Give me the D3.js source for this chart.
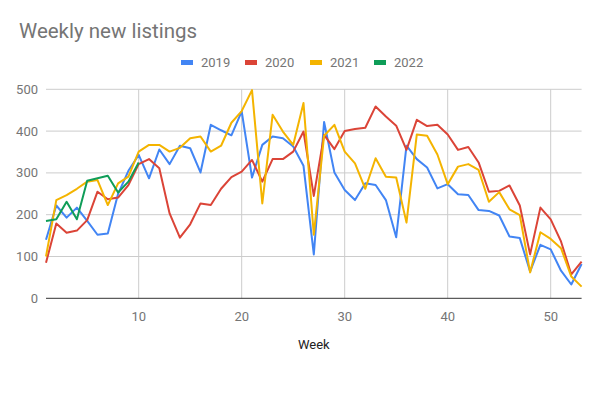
<!DOCTYPE html>
<html>
<head>
<meta charset="utf-8">
<script src="https://cdn.jsdelivr.net/npm/d3@7"></script>
<style>
  body { margin: 0; background: #fff; }
  svg { font-family: Roboto, Arial, sans-serif; }
</style>
</head>
<body>
<div id="chart"></div>
<script>
// weekly new listings per year
const years = ["2019", "2020", "2021", "2022"];
const colors = ["#4285f4", "#db4437", "#f4b400", "#0f9d58"];

const y2019 = [140, 222, 193, 217, 185, 152, 155, 250, 305, 343, 287, 356, 321, 365, 359, 301, 415, 402, 390, 447,
    289, 367, 387, 383, 363, 317, 105, 422, 301, 259, 235, 275, 271, 235, 146, 365, 333, 313, 263, 273,
    249, 247, 211, 209, 198, 148, 144, 64, 128, 117, 66, 33, 82];
const y2020 = [85, 179, 157, 162, 187, 255, 237, 241, 271, 321, 333, 311, 203, 145, 177, 227, 223, 262, 290, 303,
    331, 279, 333, 333, 351, 399, 245, 391, 357, 400, 405, 408, 459, 435, 413, 355, 427, 412, 415, 392,
    355, 362, 325, 255, 257, 270, 222, 105, 217, 189, 136, 57, 88];
const y2021 = [100, 235, 247, 262, 279, 283, 223, 275, 291, 351, 367, 367, 351, 360, 383, 387, 351, 365, 420, 448,
    498, 227, 439, 399, 367, 467, 152, 389, 415, 351, 323, 262, 335, 291, 289, 181, 392, 389, 344, 273,
    315, 321, 307, 231, 254, 213, 199, 62, 158, 142, 120, 52, 28];
const y2022 = [185, 189, 231, 189, 281, 287, 293, 253, 279, 325];

const seriesValues = [y2019, y2020, y2021, y2022];
const xTicks = [10, 20, 30, 40, 50];
const yTicks = [0, 100, 200, 300, 400, 500];

const width = 600, height = 396;
const margin = {top: 89.3, right: 18.4, bottom: 97.7, left: 46};

const svg = d3.select("#chart").append("svg")
    .attr("width", width)
    .attr("height", height);

const x = d3.scaleLinear().domain([1, 53]).range([margin.left, width - margin.right]);
const y = d3.scaleLinear().domain([0, 500]).range([height - margin.bottom, margin.top]);

// title
svg.append("text")
    .attr("x", 19)
    .attr("y", 38)
    .attr("font-size", 20.5)
    .attr("fill", "#757575")
    .text("Weekly new listings");

// legend
const legend = svg.append("g");
const legendX = [181, 245, 310, 374];
years.forEach((yr, i) => {
    legend.append("rect")
        .attr("x", legendX[i]).attr("y", 60)
        .attr("width", 12).attr("height", 5)
        .attr("fill", colors[i]);
    legend.append("text")
        .attr("x", legendX[i] + 20).attr("y", 62.5)
        .attr("dy", "0.35em")
        .attr("font-size", 13)
        .attr("fill", "#757575")
        .text(yr);
});

// gridlines
svg.append("g")
    .selectAll("line")
    .data(yTicks.filter(d => d > 0))
    .join("line")
    .attr("x1", x(1)).attr("x2", x(53))
    .attr("y1", d => y(d)).attr("y2", d => y(d))
    .attr("stroke", "#cccccc").attr("stroke-width", 1);

svg.append("g")
    .selectAll("line")
    .data(xTicks)
    .join("line")
    .attr("x1", d => x(d)).attr("x2", d => x(d))
    .attr("y1", y(500)).attr("y2", y(0))
    .attr("stroke", "#cccccc").attr("stroke-width", 1);

// y labels
svg.append("g")
    .selectAll("text")
    .data(yTicks)
    .join("text")
    .attr("x", 38)
    .attr("y", d => y(d))
    .attr("dy", "0.35em")
    .attr("text-anchor", "end")
    .attr("font-size", 13)
    .attr("fill", "#757575")
    .text(d => d);

// x labels
svg.append("g")
    .selectAll("text")
    .data(xTicks)
    .join("text")
    .attr("x", d => x(d))
    .attr("y", y(0) + 18)
    .attr("dy", "0.35em")
    .attr("text-anchor", "middle")
    .attr("font-size", 13)
    .attr("fill", "#757575")
    .text(d => d);

svg.append("text")
    .attr("x", (x(1) + x(53)) / 2)
    .attr("y", y(0) + 46)
    .attr("dy", "0.35em")
    .attr("text-anchor", "middle")
    .attr("font-size", 13)
    .attr("fill", "#222222")
    .text("Week");

// lines
const line = d3.line()
    .x((d, i) => x(i + 1))
    .y(d => y(d));

const plot = svg.append("g");
seriesValues.forEach((vals, i) => {
    plot.append("path")
        .datum(vals)
        .attr("d", line)
        .attr("fill", "none")
        .attr("stroke", colors[i])
        .attr("stroke-width", 2)
        .attr("stroke-linejoin", "round");
});

// baseline
svg.append("line")
    .attr("x1", x(1)).attr("x2", x(53))
    .attr("y1", y(0)).attr("y2", y(0))
    .attr("stroke", "#333333").attr("stroke-width", 1);
</script>
</body>
</html>
